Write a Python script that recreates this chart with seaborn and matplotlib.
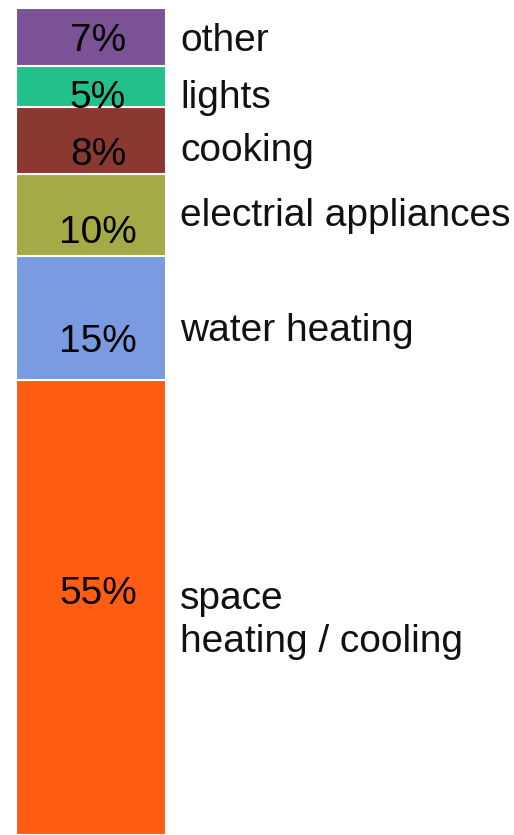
import numpy as np
import matplotlib
matplotlib.use("Agg")
import matplotlib.pyplot as plt
import seaborn as sns

# data, bottom to top of the stack
categories = ["space\nheating / cooling", "water heating", "electrial appliances",
              "cooking", "lights", "other"]
shares = [55, 15, 10, 8, 5, 7]
pct_labels = ["55%", "15%", "10%", "8%", "5%", "7%"]

colors = ["#FF5D14", "#7A9BE0", "#A3AA46", "#8A3932", "#22C18B", "#7B5295"]
# fine vertical nudges (pixels) for the text, as in the reference
pct_nudge = [14, -24, -18, -14, -11, -4]
name_nudge = [-13, -13, -1, -10, -11, -4]

sns.set_style("white")
plt.rcParams["font.family"] = ["Liberation Sans", "DejaVu Sans"]

fig = plt.figure(figsize=(5.14, 8.35), dpi=100)
ax = fig.add_axes([0, 0, 1, 1])

tops = np.cumsum(shares)
bottoms = tops - np.array(shares)
# draw cumulative bars from the tallest down, so each one covers the previous
for i in range(len(shares) - 1, -1, -1):
    sns.barplot(x=["mix"], y=[tops[i]], color=colors[i], saturation=1,
                width=0.8, edgecolor="white", linewidth=1.5, ax=ax)

for i in range(len(shares)):
    mid = bottoms[i] + shares[i] / 2
    ax.annotate(pct_labels[i], (0.037, mid), xytext=(0, pct_nudge[i]),
                textcoords="offset pixels", ha="center", va="center",
                fontsize=28, color="black")
    ax.annotate(categories[i], (0.475, mid), xytext=(0, name_nudge[i]),
                textcoords="offset pixels", ha="left", va="center",
                fontsize=28, color="#111111", linespacing=1.27)

ax.set_xlim(-0.4853, 2.256)
ax.set_ylim(0, 101)
ax.set_axis_off()

fig.savefig("out.png", dpi=100)
